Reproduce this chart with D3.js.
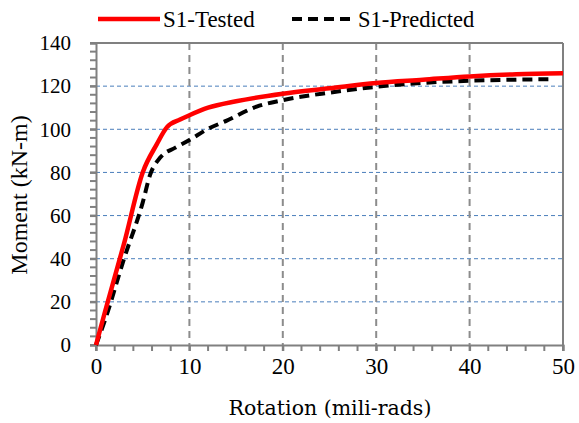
<!DOCTYPE html>
<html>
<head>
  <title></title>
  <style>
    body { margin: 0; background: #fff; }
    text { font-family: "Liberation Serif", "Times New Roman", serif; fill: #000; }
  </style>
</head>
<body>
  <svg width="579" height="423"></svg>

  <script src="https://d3js.org/d3.v7.min.js"></script>
  <script>

  // rotation (mili-rads) vs moment (kN-m)
  var testedRot = [0, 1, 3, 5, 6.5, 7.6, 9, 10, 12, 15, 20, 25, 30, 35, 40, 45, 50];
  var testedMom = [0, 16, 47, 80, 93, 101, 104.5, 106.5, 110, 113, 116.5, 119, 121.5, 123, 124.5, 125.5, 126];

  var predRot = [0, 1, 3, 5, 5.8, 6.9, 8.5, 10, 11.9, 14, 17.2, 20, 25, 30, 35, 40, 45, 48.6];
  var predMom = [0, 12, 40, 66, 79, 87, 91.5, 95, 100, 104, 110.5, 113.5, 117, 119.7, 121.5, 122.5, 123, 123.2];

  var xTicks = [0, 10, 20, 30, 40, 50];
  var yTicks = [0, 20, 40, 60, 80, 100, 120, 140];

  var svg = d3.select("svg"),
      margin = {top: 43, right: 16, bottom: 78, left: 96},
      width = 579 - margin.left - margin.right,
      height = 423 - margin.top - margin.bottom;

  var x = d3.scaleLinear().domain([0, 50]).range([0, width]);
  var y = d3.scaleLinear().domain([0, 140]).range([height, 0]);

  var g = svg.append("g").attr("transform", "translate(" + margin.left + "," + margin.top + ")");

  // horizontal grid (blue, thin dashed)
  g.selectAll(".hgrid").data(yTicks.slice(1, -1)).enter().append("line")
      .attr("x1", 0).attr("x2", width)
      .attr("y1", function(d) { return y(d); }).attr("y2", function(d) { return y(d); })
      .attr("stroke", "#4a7ebb").attr("stroke-width", 1).attr("stroke-dasharray", "4,3");

  // vertical grid (gray, thick dashed)
  g.selectAll(".vgrid").data(xTicks.slice(1, -1)).enter().append("line")
      .attr("y1", 0).attr("y2", height)
      .attr("x1", function(d) { return x(d); }).attr("x2", function(d) { return x(d); })
      .attr("stroke", "#8c8c8c").attr("stroke-width", 2).attr("stroke-dasharray", "7,5");

  // frame top & right
  g.append("line").attr("x1", 0).attr("x2", width).attr("y1", 0).attr("y2", 0)
      .attr("stroke", "#808080").attr("stroke-width", 2);
  g.append("line").attr("x1", width).attr("x2", width).attr("y1", 0).attr("y2", height)
      .attr("stroke", "#808080").attr("stroke-width", 2);

  // minor ticks
  g.selectAll(".xminor").data(d3.range(0, 50.01, 2)).enter().append("line")
      .attr("x1", function(d) { return x(d); }).attr("x2", function(d) { return x(d); })
      .attr("y1", height).attr("y2", height + 6)
      .attr("stroke", "#808080").attr("stroke-width", 2);
  g.selectAll(".yminor").data(d3.range(0, 140.01, 4)).enter().append("line")
      .attr("y1", function(d) { return y(d); }).attr("y2", function(d) { return y(d); })
      .attr("x1", -6).attr("x2", 0)
      .attr("stroke", "#808080").attr("stroke-width", 2);

  // axes
  var xAxis = g.append("g").attr("transform", "translate(0," + height + ")")
      .call(d3.axisBottom(x).tickValues(xTicks).tickSize(6).tickPadding(7));
  var yAxis = g.append("g")
      .call(d3.axisLeft(y).tickValues(yTicks).tickSize(6).tickPadding(19));

  [xAxis, yAxis].forEach(function(a) {
    a.select(".domain").attr("stroke", "#808080").attr("stroke-width", 2);
    a.selectAll(".tick line").attr("stroke", "#808080").attr("stroke-width", 2);
    a.selectAll(".tick text").style("font-family", "'Liberation Serif', serif").attr("fill", "#000");
  });
  xAxis.selectAll(".tick text").style("font-size", "23px");
  yAxis.selectAll(".tick text").style("font-size", "21px");

  // curves
  var line = d3.line().x(function(d) { return x(d[0]); }).y(function(d) { return y(d[1]); })
      .curve(d3.curveMonotoneX);

  g.append("path").datum(d3.zip(predRot, predMom))
      .attr("d", line).attr("fill", "none").attr("stroke", "#000")
      .attr("stroke-width", 4).attr("stroke-dasharray", "10,6");

  g.append("path").datum(d3.zip(testedRot, testedMom))
      .attr("d", line).attr("fill", "none").attr("stroke", "#ff0000")
      .attr("stroke-width", 4.5);

  // axis titles
  svg.append("text").attr("x", 330).attr("y", 415)
      .attr("text-anchor", "middle").style("font-family", "'DejaVu Serif', serif")
      .style("font-size", "20.5px").text("Rotation (mili-rads)");
  svg.append("text").attr("transform", "translate(27,195) rotate(-90)")
      .attr("text-anchor", "middle").style("font-size", "24px").text("Moment (kN-m)");

  // legend
  var leg = svg.append("g");
  leg.append("line").attr("x1", 98).attr("x2", 160).attr("y1", 19).attr("y2", 19)
      .attr("stroke", "#ff0000").attr("stroke-width", 4.5);
  leg.append("text").attr("x", 163).attr("y", 27).style("font-size", "23px").text("S1-Tested");
  leg.append("line").attr("x1", 292).attr("x2", 354).attr("y1", 19).attr("y2", 19)
      .attr("stroke", "#000").attr("stroke-width", 4).attr("stroke-dasharray", "10,6");
  leg.append("text").attr("x", 358).attr("y", 27).style("font-size", "22.5px").text("S1-Predicted");

  </script>
</body>
</html>
